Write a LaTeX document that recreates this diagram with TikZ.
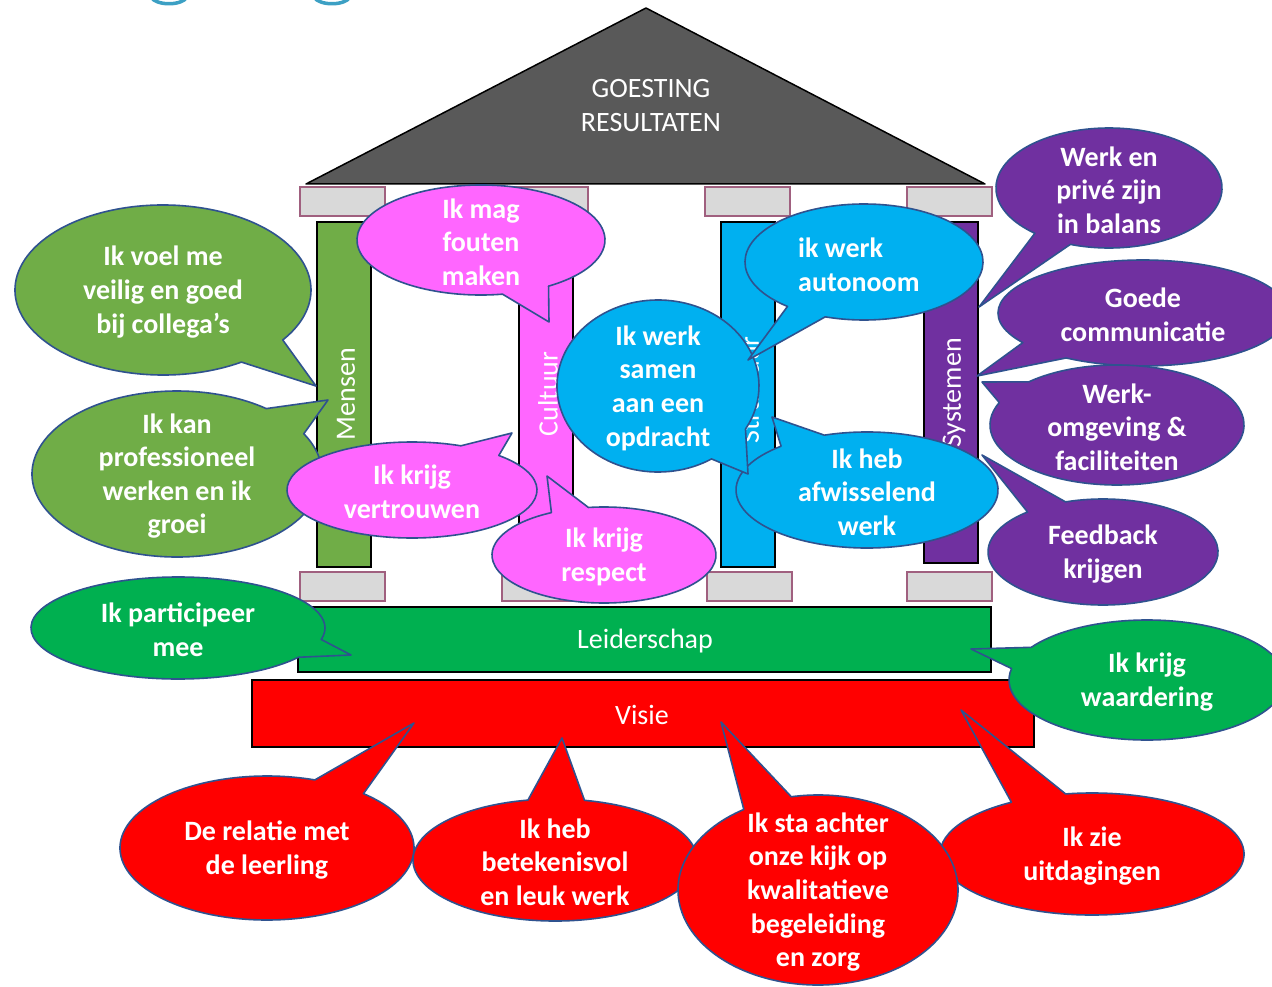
\documentclass[tikz,border=0pt]{standalone}
\usepackage{fontspec}
\setmainfont{Carlito}
\usetikzlibrary{calc}
\definecolor{roofgray}{HTML}{595959}
\definecolor{mgreen}{HTML}{70AD47}
\definecolor{lgreen}{HTML}{00B050}
\definecolor{mpink}{HTML}{FF66FF}
\definecolor{mblue}{HTML}{00B0F0}
\definecolor{mpurple}{HTML}{7030A0}
\definecolor{mred}{HTML}{FF0000}
\definecolor{capgray}{HTML}{D9D9D9}
\definecolor{capline}{HTML}{A0607F}
\definecolor{bubbleblue}{HTML}{2F528F}
\definecolor{titleteal}{HTML}{3CA0C4}
\tikzset{
  bubbleline/.style={draw=bubbleblue, line width=1.6pt, line join=round},
  bubbletext/.style={text=white, font=\bfseries\fontsize{28}{33.6}\selectfont, align=center, inner sep=0pt},
  pillarbox/.style={draw=black, line width=1.8pt},
  capbox/.style={fill=capgray, draw=capline, line width=1.2pt},
  labeltext/.style={text=white, font=\fontsize{28}{34}\selectfont, inner sep=0pt, align=center},
}
% #1 name, #2 colour, #3 centre, #4 rx, #5 ry, #6 b1, #7 b2, #8 tip
\newcommand\bubbleshape[8]{%
  \coordinate (#1-c) at #3;
  \coordinate (#1-tip) at #8;
  \coordinate (#1-t) at ($(#1-c)+(0,2)$);
  \filldraw[bubbleline, fill=#2] ([shift={(#7:#4 and #5)}]#1-c)
    arc[start angle=#7, end angle={#6+360}, x radius=#4, y radius=#5]
    -- (#1-tip) -- cycle;
}
\begin{document}
\begin{tikzpicture}[x=1pt, y=-1pt]
\clip (0,0) rectangle (1272,987);
\fill[white] (0,0) rectangle (1272,987);
% title remnants
\draw[titleteal, line width=3.5pt] (151,-3) .. controls (156,6) and (182,6) .. (187,-3);
\draw[titleteal, line width=3.5pt] (314,-3) .. controls (319,6) and (345,6) .. (350,-3);
% roof
\coordinate (roofTop) at (646,8);
\coordinate (roofR) at (985,184);
\coordinate (roofL) at (306,184);
\filldraw[fill=roofgray, draw=black, line width=1.5pt, line join=round] (roofTop) -- (roofR) -- (roofL) -- cycle;
\node[labeltext] (roofText) at (651,106) {GOESTING\\RESULTATEN};
% capitals
\draw[capbox] (300,187) rectangle (385,216);
\draw[capbox] (503,187) rectangle (588,216);
\draw[capbox] (705,187) rectangle (790,216);
\draw[capbox] (907,187) rectangle (992,216);
% pillars
\draw[pillarbox, fill=mgreen] (317,222) rectangle (371,567);
\draw[pillarbox, fill=mpink] (519,222) rectangle (573,567);
\draw[pillarbox, fill=mblue] (721,222) rectangle (775,567);
\draw[pillarbox, fill=mpurple] (924,222) rectangle (978,563);
\node[labeltext, rotate=90] (mensen) at (346,394) {Mensen};
\node[labeltext, rotate=90] (cultuur) at (548,394) {Cultuur};
\node[labeltext, rotate=90] (structuur) at (750,390) {Structuur};
\node[labeltext, rotate=90] (systemen) at (954,393) {Systemen};
% bases
\draw[capbox] (300,572) rectangle (385,601);
\draw[capbox] (502,572) rectangle (587,601);
\draw[capbox] (707,572) rectangle (792,601);
\draw[capbox] (907,572) rectangle (992,601);
% bars
\draw[pillarbox, fill=lgreen] (298,607) rectangle (991,672);
\node[labeltext] (leider) at (645,641) {Leiderschap};
\draw[pillarbox, fill=mred] (252,680) rectangle (1034,747);
\node[labeltext] (visie) at (642,715) {Visie};
% bubbles
\bubbleshape{E}{mpink}{(481,240)}{124}{55}{57}{80}{(549,322)}
\node[bubbletext] (tE) at (E-t) {Ik mag\\fouten\\maken};
\bubbleshape{A}{mgreen}{(163,290)}{148}{85}{36}{58}{(316,386)}
\node[bubbletext] (tA) at (A-t) {Ik voel me\\veilig en goed\\bij collega’s};
\bubbleshape{B}{mgreen}{(177,474)}{145}{83}{-52}{-29}{(328,400)}
\node[bubbletext] (tB) at (B-t) {Ik kan\\professioneel\\werken en ik\\groei};
\bubbleshape{F}{mpink}{(412,490)}{125}{48}{-67}{-46}{(512,433)}
\node[bubbletext] (tF) at (F-t) {Ik krijg\\vertrouwen};
\bubbleshape{G}{mpink}{(604,555)}{112}{48}{242}{262}{(547,476)}
\node[bubbletext] (tG) at (G-t) {Ik krijg\\respect};
\bubbleshape{J}{mblue}{(867,490)}{131}{58}{229}{251}{(772,417)}
\node[bubbletext] (tJ) at (J-t) {Ik heb\\afwisselend\\werk};
\bubbleshape{I}{mblue}{(658,386)}{101}{86}{30}{58}{(748,474)}
\node[bubbletext] (tI) at (I-t) {Ik werk\\samen\\aan een\\opdracht};
\bubbleshape{H}{mblue}{(864,262)}{119}{58}{109}{130}{(748,360)}
\node[bubbletext, align=left, anchor=west] (tH) at (798,265) {ik werk\\autonoom};
\bubbleshape{K}{mpurple}{(1109,188)}{113}{60}{110}{131}{(979,307)}
\node[bubbletext] (tK) at (K-t) {Werk en\\privé zijn\\in balans};
\bubbleshape{L}{mpurple}{(1143,313)}{145}{53}{122}{146}{(977,376)}
\node[bubbletext] (tL) at (L-t) {Goede\\communicatie};
\bubbleshape{M}{mpurple}{(1117,425)}{127}{60}{202}{226}{(982,382)}
\node[bubbletext] (tM) at (M-t) {Werk-\\omgeving \&\\faciliteiten};
\bubbleshape{N}{mpurple}{(1103,552)}{115}{53}{229}{251}{(982,455)}
\node[bubbletext] (tN) at (N-t) {Feedback\\krijgen};
\bubbleshape{C}{lgreen}{(178,628)}{147}{51}{13}{35}{(351,655)}
\node[bubbletext] (tC) at (C-t) {Ik participeer\\mee};
\bubbleshape{D}{lgreen}{(1147,680)}{138}{60}{191}{213}{(971,649)}
\node[bubbletext] (tD) at (D-t) {Ik krijg\\waardering};
\bubbleshape{O}{mred}{(267,848)}{147}{72}{289}{311}{(414,723)}
\node[bubbletext] (tO) at (O-t) {De relatie met\\de leerling};
\bubbleshape{P}{mred}{(555,860)}{142}{61}{259}{282}{(562,738)}
\node[bubbletext] (tP) at (P-t) {Ik heb\\betekenisvol\\en leuk werk};
\bubbleshape{R}{mred}{(1092,854)}{152}{61}{238}{260}{(961,710)}
\node[bubbletext] (tR) at (R-t) {Ik zie\\uitdagingen};
\bubbleshape{Q}{mred}{(818,890)}{140}{95}{238}{259}{(721,722)}
\node[bubbletext] (tQ) at (Q-t) {Ik sta achter\\onze kijk op\\kwalitatieve\\begeleiding\\en zorg};
\end{tikzpicture}
\end{document}
